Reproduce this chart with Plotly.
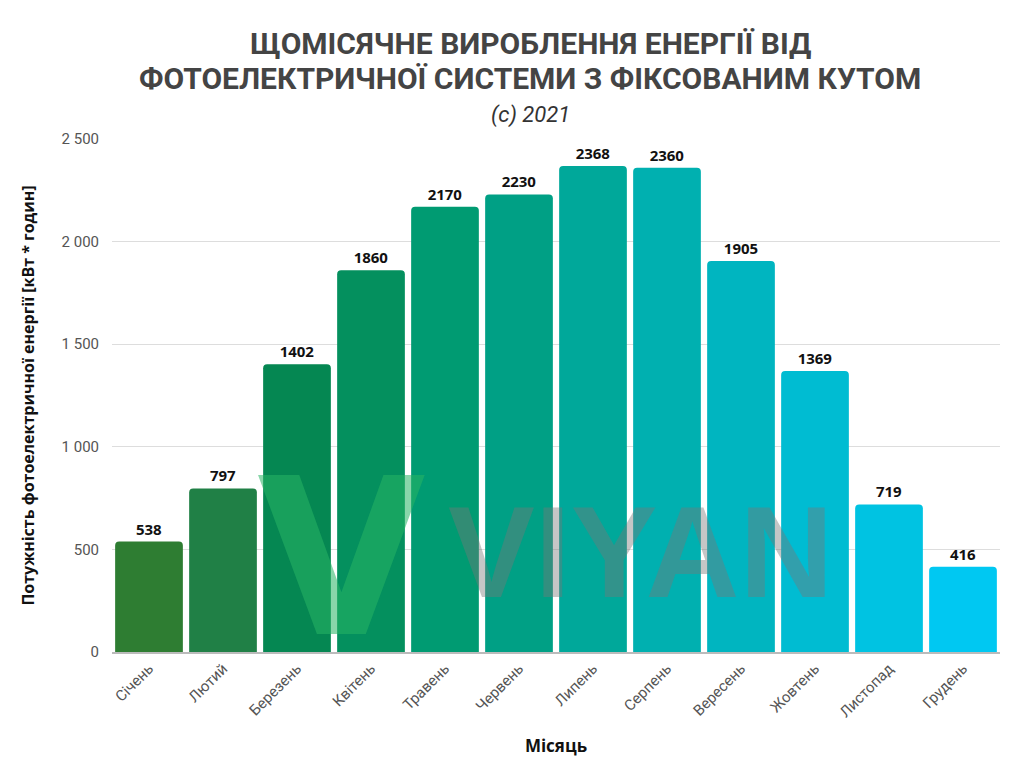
import plotly.graph_objects as go

months = ["Січень", "Лютий", "Березень", "Квітень", "Травень", "Червень",
          "Липень", "Серпень", "Вересень", "Жовтень", "Листопад", "Грудень"]
energy = [538, 797, 1402, 1860, 2170, 2230, 2368, 2360, 1905, 1369, 719, 416]
colors = ["#2e7d32", "#208046", "#058752", "#04905e", "#009b72", "#00a085",
          "#00a89a", "#00b0b0", "#00b5c0", "#00bcd2", "#00c3e2", "#00c8f2"]
y_ticks = [0, 500, 1000, 1500, 2000, 2500]
y_tick_text = ["0", "500", "1 000", "1 500", "2 000", "2 500"]
title_lines = ["ЩОМІСЯЧНЕ ВИРОБЛЕННЯ ЕНЕРГІЇ ВІД",
               "ФОТОЕЛЕКТРИЧНОЇ СИСТЕМИ З ФІКСОВАНИМ КУТОМ"]

fig = go.Figure()
fig.add_trace(go.Bar(
    x=months, y=energy,
    marker=dict(color=colors, cornerradius=4, line=dict(width=0)),
    text=[str(v) for v in energy], textposition="outside",
    textfont=dict(family="Open Sans", size=15, color="#111111", weight="bold"),
    cliponaxis=False,
))

fig.update_layout(
    width=1024, height=768,
    paper_bgcolor="white", plot_bgcolor="white",
    margin=dict(l=112, r=24, t=139, b=116),
    bargap=0.085,
    showlegend=False,
    xaxis=dict(
        tickangle=-45, tickfont=dict(family="Roboto", size=15, color="#555555"),
        showgrid=False, showline=True, linecolor="#bbbbbb", linewidth=2,
        ticks="", title=dict(text="<b>Місяць</b>", font=dict(family="Open Sans", size=17, color="#111111"), standoff=20),
    ),
    yaxis=dict(
        range=[0, 2500], tickvals=y_ticks, ticktext=y_tick_text,
        tickfont=dict(family="Roboto", size=15, color="#555555"),
        gridcolor="#dddddd", gridwidth=1, zeroline=False, ticks="",
        ticklabelstandoff=12,
        title=dict(text="<b>Потужність фотоелектричної енергії [кВт * годин]</b>",
                   font=dict(family="Open Sans", size=16, color="#111111"), standoff=22),
    ),
    annotations=[
        dict(text="<b>" + title_lines[0] + "</b>", xref="paper", yref="paper", x=0.471, y=1.187,
             xanchor="center", yanchor="middle", showarrow=False, borderpad=0,
             font=dict(family="Roboto", size=30, color="#444444")),
        dict(text="<b>" + title_lines[1] + "</b>", xref="paper", yref="paper", x=0.471, y=1.117,
             xanchor="center", yanchor="middle", showarrow=False, borderpad=0,
             font=dict(family="Roboto", size=30, color="#444444")),
        dict(text="<i>(c) 2021</i>", xref="paper", yref="paper", x=0.471, y=1.047,
             xanchor="center", yanchor="middle", showarrow=False, borderpad=0,
             font=dict(family="Roboto", size=22, color="#333333")),
        dict(text="<b>V</b>", xref="paper", yref="paper", x=0.259, y=0.182,
             xanchor="center", yanchor="middle", showarrow=False,
             font=dict(family="DejaVu Sans", size=218, color="rgba(40,180,100,0.55)")),
        dict(text="<b>VIYAN</b>", xref="paper", yref="paper", x=0.595, y=0.195,
             xanchor="center", yanchor="middle", showarrow=False,
             font=dict(family="Liberation Sans", size=130, color="rgba(120,120,120,0.42)")),
    ],
)

fig.write_html("out.html")
